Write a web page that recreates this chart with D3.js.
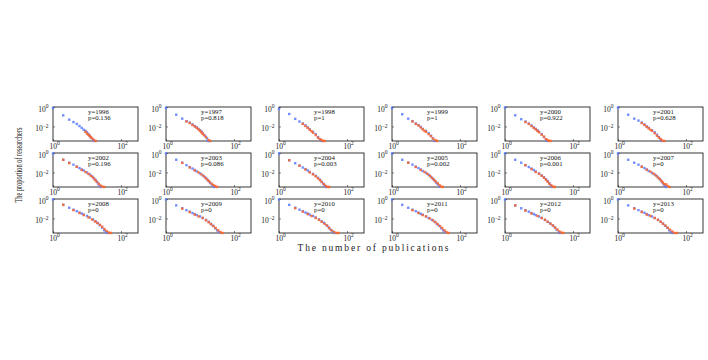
<!DOCTYPE html>
<html>
<head>
<meta charset="utf-8">
<script src="https://cdn.jsdelivr.net/npm/d3@7"></script>
<style>
  body { margin: 0; background: #fff; }
  text { font-family: "Liberation Serif", "DejaVu Serif", serif; }
</style>
</head>
<body>
<div id="chart"></div>
<script>
// years and fitted p-values, one per panel
var years = [1996, 1997, 1998, 1999, 2000, 2001, 2002, 2003, 2004, 2005, 2006, 2007, 2008, 2009, 2010, 2011, 2012, 2013];
var pLabels = ["0.136", "0.818", "1", "1", "0.922", "0.628", "0.196", "0.086", "0.003", "0.002", "0.001", "0", "0", "0", "0", "0", "0", "0"];

// tick values
var xTicks = [1, 100];
var yTicks = [1, 0.01];

// [number of publications, proportion] (blue series)
var blueSeries = [
  [[1,0.79],[2,0.14],[3,0.05],[4,0.028],[5,0.018],[6,0.011],[7,0.007],[8,0.0045],[9,0.0035],[10,0.0025],[11,0.0016],[12,0.0011],[13,0.0007],[15,0.00045],[16,0.00032]],
  [[1,0.79],[2,0.16],[3,0.063],[4,0.035],[5,0.025],[6,0.016],[7,0.011],[8,0.008],[9,0.0056],[10,0.004],[11,0.003],[12,0.002],[14,0.0011],[16,0.0006],[17,0.00032],[19,0.00032]],
  [[1,0.63],[2,0.19],[3,0.06],[4,0.032],[5,0.02],[6,0.013],[7,0.0079],[8,0.005],[10,0.0028],[12,0.0016],[14,0.0008],[16,0.00045],[18,0.00032]],
  [[1,0.79],[2,0.18],[3,0.063],[4,0.035],[5,0.02],[6,0.014],[7,0.009],[8,0.0056],[10,0.0035],[12,0.002],[14,0.0011],[16,0.0006],[18,0.00032]],
  [[1,0.89],[2,0.14],[3,0.056],[4,0.032],[5,0.02],[6,0.0126],[7,0.0079],[8,0.0056],[9,0.004],[10,0.0028],[12,0.0016],[14,0.0008],[16,0.00045],[17,0.00032]],
  [[1,0.89],[2,0.16],[3,0.063],[4,0.04],[5,0.025],[6,0.016],[7,0.01],[8,0.0071],[10,0.004],[12,0.0025],[14,0.0014],[16,0.0008],[18,0.00045],[19,0.00032]],
  [[1,0.89],[2,0.2],[3,0.1],[4,0.063],[5,0.04],[6,0.028],[7,0.02],[8,0.016],[10,0.01],[12,0.0063],[14,0.004],[16,0.0025],[18,0.0016],[20,0.001],[22,0.0006],[24,0.0004],[26,0.00032]],
  [[1,0.89],[2,0.2],[3,0.1],[4,0.056],[5,0.036],[6,0.025],[7,0.018],[8,0.013],[10,0.008],[12,0.005],[14,0.0032],[16,0.002],[18,0.0013],[20,0.0008],[23,0.0005],[26,0.00032]],
  [[1,0.89],[2,0.18],[3,0.089],[4,0.05],[5,0.032],[6,0.022],[7,0.016],[8,0.0112],[10,0.0071],[12,0.0045],[14,0.0028],[16,0.0018],[18,0.0011],[20,0.0007],[22,0.00045],[24,0.00032]],
  [[1,0.89],[2,0.2],[3,0.1],[4,0.063],[5,0.04],[6,0.028],[7,0.02],[8,0.014],[10,0.009],[12,0.0056],[14,0.0035],[16,0.0022],[18,0.0014],[20,0.0009],[22,0.0006],[25,0.00035]],
  [[1,0.89],[2,0.2],[3,0.1],[4,0.056],[5,0.036],[6,0.025],[7,0.018],[8,0.0126],[10,0.008],[12,0.005],[14,0.0032],[16,0.002],[18,0.0013],[20,0.0008],[22,0.0005],[24,0.00032]],
  [[1,0.89],[2,0.2],[3,0.1],[4,0.063],[5,0.04],[6,0.028],[7,0.02],[8,0.014],[10,0.009],[12,0.006],[14,0.004],[16,0.0025],[18,0.0016],[20,0.001],[22,0.0006],[24,0.0004],[26,0.00032]],
  [[1,0.89],[2,0.25],[3,0.126],[4,0.079],[5,0.056],[6,0.04],[7,0.032],[8,0.025],[10,0.018],[12,0.0126],[15,0.0079],[18,0.005],[21,0.0032],[24,0.002],[28,0.0011],[32,0.0006],[36,0.0004],[40,0.00032]],
  [[1,0.89],[2,0.22],[3,0.112],[4,0.071],[5,0.05],[6,0.036],[7,0.028],[8,0.022],[10,0.016],[12,0.011],[15,0.0071],[18,0.0045],[21,0.0028],[24,0.0018],[28,0.001],[32,0.0006],[36,0.0004]],
  [[1,0.89],[2,0.25],[3,0.126],[4,0.079],[5,0.056],[6,0.04],[7,0.032],[8,0.025],[10,0.018],[12,0.0126],[15,0.0079],[18,0.005],[21,0.0035],[25,0.002],[29,0.0012],[33,0.0007],[38,0.00045],[42,0.00032]],
  [[1,0.89],[2,0.25],[3,0.126],[4,0.079],[5,0.056],[6,0.04],[7,0.03],[8,0.024],[10,0.016],[12,0.011],[15,0.0071],[18,0.0045],[21,0.0028],[24,0.0018],[28,0.001],[32,0.0006],[36,0.0004]],
  [[1,0.89],[2,0.22],[3,0.112],[4,0.071],[5,0.05],[6,0.036],[7,0.028],[8,0.022],[10,0.016],[12,0.0112],[15,0.0071],[18,0.0045],[21,0.0032],[25,0.002],[29,0.0012],[33,0.0007],[38,0.0004],[42,0.00032]],
  [[1,0.89],[2,0.22],[3,0.112],[4,0.071],[5,0.05],[6,0.038],[7,0.028],[8,0.022],[10,0.016],[12,0.011],[15,0.0071],[18,0.0045],[21,0.003],[24,0.0018],[28,0.0011],[32,0.0006],[36,0.0004],[40,0.00032]]
];

// orange series
var orangeSeries = [
  [[9,0.0028],[10,0.0018],[11,0.0014],[12,0.001],[13,0.0008],[14,0.0006],[16,0.0004],[18,0.00032]],
  [[4,0.032],[5,0.022],[6,0.014],[7,0.01],[8,0.0071],[9,0.005],[10,0.0035],[11,0.0025],[12,0.0018],[13,0.0013],[15,0.0008],[18,0.0004],[20,0.00032]],
  [[5,0.018],[6,0.011],[7,0.0071],[8,0.0045],[9,0.0032],[10,0.0022],[12,0.0013],[14,0.0007],[16,0.0005],[18,0.0004],[20,0.00032],[22,0.00032]],
  [[4,0.032],[5,0.018],[6,0.0126],[7,0.0079],[8,0.005],[9,0.0035],[10,0.0028],[12,0.0016],[14,0.001],[16,0.00056],[19,0.0004],[21,0.00032]],
  [[4,0.028],[5,0.018],[6,0.011],[7,0.0071],[8,0.005],[9,0.0035],[10,0.0025],[12,0.0014],[14,0.0009],[16,0.0005],[18,0.0004],[20,0.00032],[22,0.00032]],
  [[5,0.022],[6,0.014],[7,0.009],[8,0.0063],[9,0.0045],[10,0.0035],[12,0.002],[14,0.0011],[16,0.0007],[18,0.0005],[20,0.00035],[23,0.00032]],
  [[2,0.2],[3,0.09],[5,0.038],[7,0.018],[9,0.011],[11,0.0071],[13,0.0045],[15,0.003],[17,0.0018],[19,0.0012],[22,0.0007],[25,0.00045],[28,0.00035],[32,0.00032]],
  [[3,0.095],[5,0.032],[7,0.016],[9,0.01],[11,0.0063],[13,0.004],[15,0.0025],[17,0.0016],[19,0.0011],[22,0.0007],[25,0.0005],[28,0.0004],[32,0.00032]],
  [[2,0.18],[4,0.05],[6,0.02],[8,0.01],[10,0.0063],[12,0.004],[14,0.0025],[16,0.0016],[18,0.001],[21,0.0006],[24,0.0004],[27,0.00032],[30,0.00032]],
  [[3,0.1],[5,0.036],[7,0.018],[9,0.0112],[11,0.0071],[13,0.0045],[15,0.0028],[17,0.0018],[19,0.0012],[22,0.0008],[25,0.0005],[28,0.00035],[31,0.00032]],
  [[4,0.056],[6,0.022],[8,0.011],[10,0.0071],[12,0.0045],[14,0.0028],[16,0.0018],[18,0.0011],[20,0.0007],[23,0.00045],[26,0.00035],[29,0.00032]],
  [[5,0.038],[7,0.019],[9,0.012],[11,0.0075],[13,0.0048],[15,0.003],[17,0.002],[19,0.0013],[21,0.0009],[23,0.0006],[26,0.0006],[29,0.0004],[33,0.00032]],
  [[2,0.25],[4,0.071],[6,0.036],[8,0.022],[11,0.0126],[14,0.0079],[17,0.005],[20,0.0035],[24,0.0022],[28,0.0014],[33,0.0008],[38,0.0005],[44,0.00035],[50,0.00032]],
  [[3,0.1],[5,0.045],[7,0.025],[9,0.016],[12,0.0112],[15,0.0063],[18,0.004],[21,0.0025],[25,0.0016],[29,0.001],[34,0.0006],[40,0.0004],[46,0.00032]],
  [[3,0.112],[5,0.05],[7,0.028],[9,0.018],[12,0.0112],[15,0.0071],[18,0.0045],[22,0.0028],[26,0.0018],[30,0.001],[35,0.0006],[42,0.0004],[50,0.00032],[56,0.00032]],
  [[4,0.071],[6,0.036],[8,0.022],[10,0.016],[13,0.01],[16,0.0063],[19,0.004],[22,0.0025],[26,0.0016],[30,0.001],[35,0.0006],[40,0.0004],[46,0.00032]],
  [[2,0.22],[4,0.063],[6,0.032],[9,0.018],[12,0.011],[15,0.0071],[18,0.0045],[22,0.0028],[26,0.0018],[30,0.0011],[35,0.0007],[40,0.00045],[46,0.00035],[52,0.00032]],
  [[3,0.1],[5,0.045],[7,0.025],[9,0.018],[12,0.0112],[15,0.0071],[18,0.0045],[21,0.0028],[25,0.0018],[29,0.0011],[34,0.0007],[40,0.00045],[46,0.00032],[54,0.00032]]
];

// layout
var W = 708, H = 360;
var cols = 6;
var panelW = 85, panelH = 34;
var left0 = 53, top0 = 107, colStep = 113, rowStep = 46;
var blue = "#5b7bff", orange = "#ff6426";
var mark = 2.4;

var svg = d3.select("#chart").append("svg")
    .attr("width", W)
    .attr("height", H);
svg.append("rect").attr("width", W).attr("height", H).attr("fill", "#fff");

var xScale = d3.scaleLog().domain([1, Math.pow(10, 2.5)]).range([0, panelW]);
var yScale = d3.scaleLog().domain([Math.pow(10, -3.5), 1]).range([panelH, 0]);

function expOf(v) {
    var e = Math.round(Math.log10(v));
    return e < 0 ? "\u2212" + (-e) : "" + e;
}

// write 10^k as "10" plus a raised exponent
function powerLabel(sel) {
    sel.each(function(d) {
        var t = d3.select(this).text("");
        t.append("tspan").text("10");
        t.append("tspan").attr("dy", -3.2).style("font-size", "5.5px").text(expOf(d));
    });
}

years.forEach(function(year, i) {
    var col = i % cols, row = Math.floor(i / cols);
    var g = svg.append("g")
        .attr("transform", "translate(" + (left0 + col * colStep) + "," + (top0 + row * rowStep) + ")");

    var xAxis = d3.axisBottom(xScale).tickValues(xTicks).tickSize(-2).tickFormat(function() { return ""; });
    var yAxis = d3.axisLeft(yScale).tickValues(yTicks).tickSize(-2).tickFormat(function() { return ""; });

    var gx = g.append("g").attr("transform", "translate(0," + panelH + ")").call(xAxis);
    var gy = g.append("g").call(yAxis);
    gx.select(".domain").remove();
    gy.select(".domain").remove();
    g.selectAll(".tick line").attr("stroke", "#333").attr("stroke-width", 0.6);

    gx.selectAll(".tick text")
        .attr("text-anchor", "start")
        .attr("x", -4)
        .attr("y", 7.5)
        .attr("dy", null)
        .attr("fill", "#222")
        .style("font-size", "7.5px")
        .call(powerLabel);
    gy.selectAll(".tick text")
        .attr("text-anchor", "end")
        .attr("x", -4.5)
        .attr("dy", "0.55em")
        .attr("fill", "#222")
        .style("font-size", "7.5px")
        .call(powerLabel);

    g.append("rect")
        .attr("width", panelW)
        .attr("height", panelH)
        .attr("fill", "none")
        .attr("stroke", "#222")
        .attr("stroke-width", 0.9);

    g.append("g").selectAll("rect")
        .data(blueSeries[i])
        .enter()
        .append("rect")
        .attr("x", function(d) { return xScale(d[0]) - mark / 2; })
        .attr("y", function(d) { return yScale(d[1]) - mark / 2; })
        .attr("width", mark)
        .attr("height", mark)
        .attr("fill", blue)
        .attr("fill-opacity", 0.85);

    g.append("g").selectAll("rect")
        .data(orangeSeries[i])
        .enter()
        .append("rect")
        .attr("x", function(d) { return xScale(d[0]) - mark / 2; })
        .attr("y", function(d) { return yScale(d[1]) - mark / 2; })
        .attr("width", mark)
        .attr("height", mark)
        .attr("fill", orange)
        .attr("fill-opacity", 0.85);

    g.append("text")
        .attr("x", 35)
        .attr("y", 7)
        .style("font-size", "6.8px")
        .attr("fill", "#111")
        .text("y=" + year);
    g.append("text")
        .attr("x", 35)
        .attr("y", 12.5)
        .style("font-size", "6.8px")
        .attr("fill", "#111")
        .text("p=" + pLabels[i]);
});

// shared axis titles
svg.append("text")
    .attr("transform", "translate(22,165) rotate(-90)")
    .attr("text-anchor", "middle")
    .attr("textLength", 75)
    .attr("lengthAdjust", "spacingAndGlyphs")
    .style("font-size", "10px")
    .attr("fill", "#222")
    .text("The proportion of researchers");

svg.append("text")
    .attr("x", 373)
    .attr("y", 251)
    .attr("text-anchor", "middle")
    .attr("textLength", 151)
    .attr("lengthAdjust", "spacing")
    .style("font-size", "9.5px")
    .attr("fill", "#222")
    .text("The number of publications");
</script>
</body>
</html>
